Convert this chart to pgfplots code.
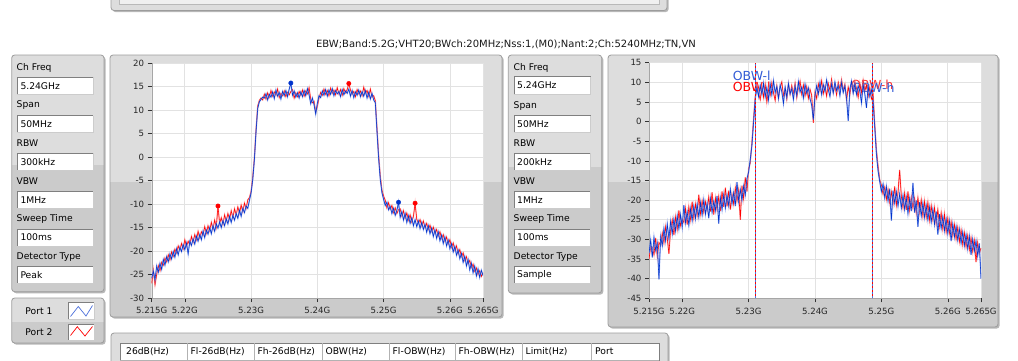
\documentclass[border=0pt]{standalone}
\usepackage{fontspec}
\setmainfont{DejaVu Sans}
\usepackage{pgfplots}
\usepackage{pgfplotstable}
\pgfplotsset{compat=1.18}

\definecolor{panelhi}{HTML}{DDDDDD}
\definecolor{panello}{HTML}{CBCBCB}
\definecolor{panelrim}{HTML}{9C9C9C}
\definecolor{shadowc}{HTML}{B8B8B8}
\definecolor{gridc}{HTML}{E2E2E2}
\definecolor{fieldrim}{HTML}{7F7F7F}
\definecolor{traceblue}{HTML}{0033CC}
\definecolor{tracebluelt}{HTML}{7C98F0}
\definecolor{tracered}{HTML}{FF0000}
\definecolor{traceredlt}{HTML}{FF8C8C}

\newcommand{\uitext}{\fontsize{9.2}{10}\selectfont}
\newcommand{\tickfont}{\fontsize{8.6}{9}\selectfont}

% rounded LabVIEW-style panel: x1,y1,x2,y2,y of the shade change
\newcommand{\panel}[5]{%
  \fill[shadowc, rounded corners=3pt] (#1+1.6,#2+1.6) rectangle (#3+1.6,#4+1.6);
  \begin{scope}
    \clip[rounded corners=3pt] (#1,#2) rectangle (#3,#4);
    \fill[panelhi] (#1,#2) rectangle (#3,#5);
    \fill[panello] (#1,#5) rectangle (#3,#4);
  \end{scope}
  \draw[panelrim, rounded corners=3pt, line width=0.8pt] (#1,#2) rectangle (#3,#4);
}
% white entry field with its value
\newcommand{\field}[5]{%
  \fill[white] (#1,#2) rectangle (#3,#4);
  \draw[fieldrim, line width=0.6pt] (#1,#4) -- (#1,#2) -- (#3,#2);
  \draw[gray!40, line width=0.6pt] (#3,#2) -- (#3,#4) -- (#1,#4);
  \node[anchor=west, inner sep=0pt, font=\uitext] at (#1+3,{(#2+#4)/2}) {#5};
}

% spectrum, left trace: frequency (MHz), port 1, port 2
\pgfplotstableread{
f b r
5215.00 -25.8 -26.9
5215.25 -24.3 -24.0
5215.50 -26.1 -27.2
5215.75 -23.2 -25.0
5216.00 -24.5 -23.1
5216.25 -22.6 -24.2
5216.50 -23.9 -22.4
5216.75 -21.8 -23.0
5217.00 -23.0 -21.5
5217.25 -21.2 -22.3
5217.50 -22.3 -20.8
5217.75 -20.6 -21.9
5218.00 -21.7 -20.2
5218.25 -20.1 -21.1
5218.50 -21.3 -19.6
5218.75 -19.5 -20.4
5219.00 -20.8 -18.9
5219.25 -19.2 -19.8
5219.50 -20.1 -18.4
5219.75 -18.6 -19.5
5220.00 -19.7 -17.6
5220.25 -18.3 -19.0
5220.50 -20.6 -17.9
5220.75 -17.9 -18.6
5221.00 -18.8 -16.9
5221.25 -17.4 -18.1
5221.50 -18.5 -16.5
5221.75 -16.8 -17.6
5222.00 -17.9 -15.8
5222.25 -16.5 -17.2
5222.50 -17.6 -15.9
5222.75 -15.7 -16.6
5223.00 -17.1 -14.8
5223.25 -15.5 -16.2
5223.50 -16.4 -14.6
5223.75 -15.0 -15.7
5224.00 -16.3 -13.9
5224.25 -14.6 -15.3
5224.50 -15.8 -13.4
5224.75 -14.2 -14.9
5225.00 -15.1 -10.4
5225.25 -13.8 -14.1
5225.50 -15.0 -12.9
5225.75 -13.5 -14.3
5226.00 -14.6 -12.3
5226.25 -13.1 -13.6
5226.50 -14.2 -12.0
5226.75 -12.6 -13.2
5227.00 -13.9 -11.4
5227.25 -12.4 -12.9
5227.50 -13.4 -11.0
5227.75 -12.0 -12.3
5228.00 -13.0 -10.6
5228.25 -11.3 -11.9
5228.50 -12.6 -10.2
5228.75 -10.9 -11.6
5229.00 -11.8 -9.8
5229.25 -10.4 -10.9
5229.50 -10.9 -9.1
5229.75 -9.2 -8.6
5230.00 -7.6 -7.3
5230.25 -4.8 -4.2
5230.50 -0.5 -0.1
5230.75 5.5 6.0
5231.00 10.4 10.9
5231.25 11.8 12.1
5231.50 12.3 12.6
5231.75 12.8 12.2
5232.00 12.6 13.4
5232.25 13.5 12.4
5232.50 12.2 13.7
5232.75 13.4 12.8
5233.00 12.8 14.2
5233.25 13.9 13.0
5233.50 12.5 13.9
5233.75 14.3 13.2
5234.00 13.0 14.5
5234.25 13.8 12.7
5234.50 12.4 13.6
5234.75 14.0 13.1
5235.00 13.1 14.1
5235.25 14.2 12.9
5235.50 12.9 13.8
5235.75 14.5 13.3
5236.00 15.8 14.0
5236.25 13.2 14.4
5236.50 14.1 12.6
5236.75 12.8 13.7
5237.00 13.7 12.9
5237.25 12.6 14.0
5237.50 13.9 13.2
5237.75 12.9 14.3
5238.00 14.2 13.0
5238.25 13.1 14.1
5238.50 14.6 13.5
5238.75 13.3 14.8
5239.00 11.4 12.3
5239.25 12.6 11.6
5239.50 11.2 11.9
5239.75 9.2 9.6
5240.00 11.5 10.8
5240.25 13.1 12.6
5240.50 12.7 13.8
5240.75 14.1 13.2
5241.00 13.2 14.5
5241.25 14.4 13.4
5241.50 13.0 14.2
5241.75 14.3 13.1
5242.00 13.4 14.7
5242.25 14.6 13.6
5242.50 13.1 14.3
5242.75 14.2 13.3
5243.00 13.5 14.8
5243.25 14.0 13.5
5243.50 12.9 14.4
5243.75 14.4 13.2
5244.00 13.3 14.6
5244.25 14.1 13.7
5244.50 13.6 14.4
5244.75 14.5 15.7
5245.00 13.0 14.3
5245.25 14.2 13.4
5245.50 12.7 14.0
5245.75 13.9 12.9
5246.00 13.2 14.4
5246.25 14.3 13.5
5246.50 12.9 14.1
5246.75 14.0 13.1
5247.00 13.0 14.9
5247.25 14.2 13.6
5247.50 12.6 14.2
5247.75 13.8 13.0
5248.00 12.4 14.5
5248.25 13.6 12.8
5248.50 12.2 13.1
5248.75 11.6 12.0
5249.00 5.5 6.2
5249.25 -0.3 0.4
5249.50 -4.8 -4.0
5249.75 -7.6 -7.0
5250.00 -9.0 -8.3
5250.25 -10.3 -9.2
5250.50 -9.6 -10.8
5250.75 -11.2 -9.7
5251.00 -10.5 -11.1
5251.25 -12.0 -10.3
5251.50 -10.9 -11.8
5251.75 -12.4 -10.8
5252.00 -11.3 -12.0
5252.25 -9.6 -11.2
5252.50 -12.8 -11.0
5252.75 -11.6 -12.5
5253.00 -13.4 -11.4
5253.25 -12.0 -13.0
5253.50 -13.9 -11.9
5253.75 -12.5 -13.4
5254.00 -14.1 -12.3
5254.25 -12.9 -13.8
5254.50 -14.6 -12.6
5254.75 -13.3 -9.8
5255.00 -14.8 -13.2
5255.25 -13.6 -14.1
5255.50 -15.2 -13.3
5255.75 -13.9 -14.6
5256.00 -15.4 -13.6
5256.25 -14.3 -15.0
5256.50 -16.0 -14.1
5256.75 -14.6 -15.4
5257.00 -16.3 -14.5
5257.25 -15.1 -15.8
5257.50 -16.9 -14.9
5257.75 -15.5 -16.2
5258.00 -17.3 -15.4
5258.25 -15.9 -16.8
5258.50 -17.8 -15.9
5258.75 -16.6 -17.3
5259.00 -18.4 -16.5
5259.25 -17.0 -17.9
5259.50 -18.9 -17.0
5259.75 -17.7 -18.5
5260.00 -19.5 -17.6
5260.25 -18.4 -19.2
5260.50 -20.2 -18.3
5260.75 -19.0 -19.8
5261.00 -20.9 -18.9
5261.25 -19.8 -20.6
5261.50 -21.6 -19.7
5261.75 -20.5 -21.2
5262.00 -22.4 -20.4
5262.25 -21.1 -22.0
5262.50 -23.2 -21.2
5262.75 -21.8 -22.7
5263.00 -24.0 -22.0
5263.25 -22.6 -23.5
5263.50 -24.6 -22.8
5263.75 -23.2 -24.3
5264.00 -25.3 -23.6
5264.25 -23.8 -25.0
5264.50 -25.6 -24.2
5264.75 -24.1 -25.4
5265.00 -25.2 -24.6
}\peakdata

% spectrum, right trace (sample detector)
\pgfplotstableread{
f b r
5215.00 -33.5 -35.0
5215.25 -30.2 -31.8
5215.50 -34.6 -32.0
5215.75 -29.5 -33.9
5216.00 -32.8 -29.6
5216.25 -31.0 -34.4
5216.50 -40.2 -30.8
5216.75 -29.3 -31.5
5217.00 -31.6 -28.4
5217.25 -27.2 -30.9
5217.50 -30.4 -26.8
5217.75 -26.1 -29.7
5218.00 -29.8 -33.7
5218.25 -25.4 -27.5
5218.50 -28.6 -25.0
5218.75 -24.8 -28.9
5219.00 -27.9 -24.3
5219.25 -24.0 -27.4
5219.50 -27.3 -22.6
5219.75 -23.7 -26.5
5220.00 -26.9 -24.8
5220.25 -21.3 -25.7
5220.50 -25.8 -22.1
5220.75 -23.0 -26.2
5221.00 -26.4 -21.7
5221.25 -22.2 -24.9
5221.50 -25.2 -20.4
5221.75 -21.5 -24.6
5222.00 -24.7 -21.0
5222.25 -21.0 -23.8
5222.50 -24.3 -18.6
5222.75 -20.6 -23.5
5223.00 -23.8 -20.2
5223.25 -19.9 -23.1
5223.50 -23.6 -20.4
5223.75 -20.8 -22.6
5224.00 -24.6 -19.2
5224.25 -19.6 -22.9
5224.50 -23.1 -18.0
5224.75 -20.3 -23.7
5225.00 -22.7 -19.5
5225.25 -18.9 -22.5
5225.50 -26.0 -19.1
5225.75 -19.4 -22.8
5226.00 -22.4 -17.8
5226.25 -18.6 -21.7
5226.50 -22.0 -16.8
5226.75 -18.7 -21.6
5227.00 -21.4 -17.6
5227.25 -17.2 -22.4
5227.50 -20.9 -18.5
5227.75 -18.1 -21.0
5228.00 -21.5 -16.9
5228.25 -15.4 -20.2
5228.50 -20.3 -17.4
5228.75 -17.3 -25.0
5229.00 -20.0 -16.3
5229.25 -16.4 -19.6
5229.50 -18.7 -14.2
5229.75 -14.5 -17.8
5230.00 -12.9 -12.0
5230.25 -9.6 -10.5
5230.50 -6.1 -5.2
5230.75 -0.2 0.8
5231.00 5.8 6.4
5231.25 8.6 9.3
5231.50 6.4 7.2
5231.75 9.2 5.6
5232.00 7.0 8.9
5232.25 9.8 6.2
5232.50 6.3 9.4
5232.75 8.7 5.0
5233.00 5.5 8.1
5233.25 9.6 6.7
5233.50 6.8 9.9
5233.75 10.4 7.3
5234.00 7.4 5.4
5234.25 8.9 9.1
5234.50 5.9 6.0
5234.75 9.3 8.8
5235.00 7.6 10.1
5235.25 4.6 6.5
5235.50 8.8 8.4
5235.75 6.2 5.7
5236.00 9.7 9.6
5236.25 7.1 6.9
5236.50 8.4 9.2
5236.75 5.6 7.0
5237.00 9.0 9.8
5237.25 6.7 6.1
5237.50 10.2 8.6
5237.75 7.5 10.3
5238.00 8.8 7.0
5238.25 6.0 9.3
5238.50 9.5 6.6
5238.75 7.2 8.9
5239.00 8.6 5.9
5239.25 5.8 8.2
5239.50 4.2 6.7
5239.75 0.5 -0.3
5240.00 6.6 7.5
5240.25 9.1 5.9
5240.50 7.0 9.6
5240.75 10.0 7.8
5241.00 6.9 10.4
5241.25 9.4 7.1
5241.50 7.7 9.0
5241.75 10.6 6.5
5242.00 8.2 9.7
5242.25 6.4 8.0
5242.50 9.6 10.8
5242.75 7.3 7.4
5243.00 10.1 9.2
5243.25 7.9 6.8
5243.50 9.2 10.0
5243.75 6.6 8.3
5244.00 9.9 10.7
5244.25 7.4 7.9
5244.50 9.0 9.5
5244.75 6.1 5.4
5245.00 0.2 8.8
5245.25 8.3 6.9
5245.50 10.3 9.9
5245.75 7.2 7.6
5246.00 9.6 10.2
5246.25 6.9 8.4
5246.50 9.1 6.2
5246.75 7.8 9.7
5247.00 4.8 7.3
5247.25 9.4 10.5
5247.50 7.1 7.8
5247.75 3.5 9.3
5248.00 9.0 6.4
5248.25 6.4 8.7
5248.50 8.1 5.8
5248.75 5.2 7.0
5249.00 -1.5 -0.8
5249.25 -8.3 -7.2
5249.50 -12.6 -11.4
5249.75 -15.3 -14.8
5250.00 -17.8 -16.2
5250.25 -15.9 -18.5
5250.50 -19.4 -16.7
5250.75 -16.5 -19.8
5251.00 -20.2 -17.3
5251.25 -17.1 -20.6
5251.50 -25.2 -17.9
5251.75 -17.6 -20.9
5252.00 -20.8 -16.5
5252.25 -17.9 -21.3
5252.50 -21.5 -18.1
5252.75 -18.4 -12.3
5253.00 -22.0 -19.0
5253.25 -18.8 -21.9
5253.50 -22.4 -18.2
5253.75 -19.3 -22.5
5254.00 -23.4 -17.8
5254.25 -19.6 -22.6
5254.50 -22.8 -19.2
5254.75 -15.6 -22.0
5255.00 -23.2 -19.5
5255.25 -20.1 -23.3
5255.50 -26.8 -19.4
5255.75 -20.5 -23.1
5256.00 -24.0 -19.9
5256.25 -20.8 -24.1
5256.50 -24.4 -20.3
5256.75 -21.4 -24.3
5257.00 -25.0 -20.6
5257.25 -21.8 -25.1
5257.50 -25.6 -21.4
5257.75 -22.3 -25.0
5258.00 -26.2 -21.9
5258.25 -22.9 -26.0
5258.50 -28.8 -22.4
5258.75 -23.6 -26.7
5259.00 -27.2 -23.2
5259.25 -24.2 -27.4
5259.50 -27.8 -23.6
5259.75 -24.8 -28.1
5260.00 -28.5 -24.6
5260.25 -25.3 -28.4
5260.50 -30.4 -25.5
5260.75 -26.1 -29.0
5261.00 -29.4 -26.2
5261.25 -26.7 -29.9
5261.50 -30.2 -26.9
5261.75 -27.4 -30.6
5262.00 -31.0 -27.6
5262.25 -28.1 -31.4
5262.50 -31.6 -28.3
5262.75 -28.8 -31.9
5263.00 -32.4 -29.0
5263.25 -29.2 -32.6
5263.50 -33.9 -29.6
5263.75 -29.9 -33.1
5264.00 -33.0 -30.3
5264.25 -30.4 -35.8
5264.50 -34.2 -30.8
5264.75 -31.0 -33.6
5265.00 -40.0 -32.2
}\sampledata

\pgfplotsset{
  spectrum/.style={
    scale only axis,
    xmin=5215, xmax=5265,
    xtick={5215,5220,5230,5240,5250,5260,5265},
    xticklabels={5.215G,5.22G,5.23G,5.24G,5.25G,5.26G,5.265G},
    axis x line*=bottom, axis y line*=left,
    axis line style={-, draw=gray!70},
    axis background/.style={fill=white},
    grid=major, major grid style={draw=gridc, line width=0.7pt},
    tick align=outside, major tick length=4pt,
    tick style={draw=black!80, line width=0.6pt},
    ticklabel style={font=\tickfont, text=black!85},
    xticklabel style={yshift=-2pt},
    clip=true,
  },
  halo/.style={line width=1.3pt, opacity=0.7},
  core/.style={line width=0.55pt},
}

\begin{document}
\begin{tikzpicture}
\path[use as bounding box] (0,0) rectangle (1018pt,-360pt);
\clip (0,0) rectangle (1018pt,-360pt);
\fill[white] (0,0) rectangle (1018pt,-360pt);

\begin{scope}[x=1pt, y=-1pt]
  % header strip
  \panel{111}{-20}{667}{10.5}{40}
  \fill[gray!12] (119,-20) rectangle (659,4);
  \draw[gray!55, line width=0.6pt] (119,-20) -- (119,4) -- (659,4) -- (659,-20);

  \node[font=\fontsize{10}{11}\selectfont, text=black!90] at (506,44) {EBW;Band:5.2G;VHT20;BWch:20MHz;Nss:1,(M0);Nant:2;Ch:5240MHz;TN,VN};

  % left settings
  \panel{11.7}{55}{104}{291.7}{165}
  \foreach \y/\t in {68.3/Ch Freq,105/Span,143.3/RBW,181/VBW,219/Sweep Time,256.7/Detector Type}
    \node[anchor=west, inner sep=0pt, font=\uitext] at (16.5,\y) {\t};
  \field{17.3}{77.3}{93.3}{94}{5.24GHz}
  \field{17.3}{115.7}{93.3}{132.3}{50MHz}
  \field{17.3}{153.3}{93.3}{170.7}{300kHz}
  \field{17.3}{191}{93.3}{208.3}{1MHz}
  \field{17.3}{229}{93.3}{246}{100ms}
  \field{17.3}{266.7}{93.3}{283.3}{Peak}

  % port legend
  \panel{11.7}{298}{104}{343}{321.7}
  \node[font=\uitext] at (39,311) {Port 1};
  \node[font=\uitext] at (39,332) {Port 2};
  \field{68.3}{302.7}{94}{319}{}
  \field{68.3}{324}{94}{340.7}{}
  \draw[traceblue!70, line width=0.7pt] (70.5,316.5) -- (78.3,306.5) -- (86,316) -- (92.5,305.5);
  \draw[tracered, line width=0.7pt] (70.5,335.5) -- (77.3,326.7) -- (85,336) -- (92.5,326.5);

  % chart frames
  \panel{110}{55}{502}{317}{182}
  \panel{508.3}{55}{601.7}{293}{167}
  \panel{608}{55}{998}{327}{182}

  % right settings
  \foreach \y/\t in {68.3/Ch Freq,105.7/Span,143.3/RBW,181/VBW,219/Sweep Time,256.7/Detector Type}
    \node[anchor=west, inner sep=0pt, font=\uitext] at (513.5,\y) {\t};
  \field{514}{76.7}{590.7}{94}{5.24GHz}
  \field{514}{115.7}{590.7}{132.3}{50MHz}
  \field{514}{153.3}{590.7}{170.7}{200kHz}
  \field{514}{191}{590.7}{208.3}{1MHz}
  \field{514}{229}{590.7}{246}{100ms}
  \field{514}{266.7}{590.7}{283.3}{Sample}

  % results table
  \panel{111}{333}{668}{400}{400}
  \fill[white] (120,343) rectangle (659,400);
  \draw[fieldrim, line width=0.6pt] (120,400) -- (120,343) -- (659,343) -- (659,400);
  \draw[gray!60, line width=0.5pt] (120,360.5) -- (659,360.5);
  \foreach \x in {187,254,322,389,455,522,591}
    \draw[gray!60, line width=0.5pt] (\x,343) -- (\x,360.5);
  \foreach \x/\t in {126/26dB(Hz),190.5/Fl-26dB(Hz),257.5/Fh-26dB(Hz),325.5/OBW(Hz),392.5/Fl-OBW(Hz),458.5/Fh-OBW(Hz),525.5/Limit(Hz),595/Port}
    \node[anchor=west, inner sep=0pt, font=\uitext] at (\x,351.5) {\t};
\end{scope}

% peak-detector spectrum
\begin{axis}[spectrum,
  at={(151.7pt,-298pt)}, anchor=south west,
  width=331.3pt, height=234.7pt,
  ymin=-30, ymax=20,
  ytick={-30,-25,...,20},
  yticklabels={-30,-25,-20,-15,-10,-5,0,5,10,15,20},
]
\addplot[traceredlt, halo] table[x=f, y=r] {\peakdata};
\addplot[tracered, core] table[x=f, y=r] {\peakdata};
\addplot[tracebluelt, halo] table[x=f, y=b] {\peakdata};
\addplot[traceblue, core] table[x=f, y=b] {\peakdata};
\addplot[only marks, mark=*, mark size=2.2pt, tracered] coordinates {(5225,-10.4) (5244.75,15.7) (5254.75,-9.8)};
\addplot[only marks, mark=*, mark size=2.2pt, traceblue] coordinates {(5236,15.8) (5252.25,-9.6)};
\end{axis}

% sample-detector spectrum with OBW cursors
\begin{axis}[spectrum,
  at={(649pt,-298.3pt)}, anchor=south west,
  width=332pt, height=235.6pt,
  ymin=-45, ymax=15,
  ytick={-45,-40,...,15},
  yticklabels={-45,-40,-35,-30,-25,-20,-15,-10,-5,0,5,10,15},
]
\node[anchor=west, inner sep=0pt, text=tracered, font=\fontsize{12.5}{14}\selectfont] at (axis cs:5227.6,8.9) {OBW-l};
\node[anchor=west, inner sep=0pt, text=tracered!80, font=\fontsize{12.5}{14}\selectfont] at (axis cs:5245.4,9.3) {OBW-h};
\node[anchor=west, inner sep=0pt, text=traceblue!80, font=\fontsize{12.5}{14}\selectfont] at (axis cs:5227.6,11.6) {OBW-l};
\node[anchor=west, inner sep=0pt, text=traceblue!80, font=\fontsize{12.5}{14}\selectfont] at (axis cs:5245.6,8.6) {OBW-h};
\addplot[traceredlt, halo] table[x=f, y=r] {\sampledata};
\addplot[tracered, core] table[x=f, y=r] {\sampledata};
\addplot[tracebluelt, halo] table[x=f, y=b] {\sampledata};
\addplot[traceblue, core] table[x=f, y=b] {\sampledata};
\addplot[tracered, line width=0.6pt] coordinates {(5231,-45) (5231,15)};
\addplot[tracered, line width=0.6pt] coordinates {(5248.7,-45) (5248.7,15)};
\addplot[traceblue!70, line width=0.6pt, dash pattern=on 2pt off 2pt] coordinates {(5231,-45) (5231,15)};
\addplot[traceblue!70, line width=0.6pt, dash pattern=on 2pt off 2pt] coordinates {(5248.7,-45) (5248.7,15)};
\end{axis}
\end{tikzpicture}
\end{document}
